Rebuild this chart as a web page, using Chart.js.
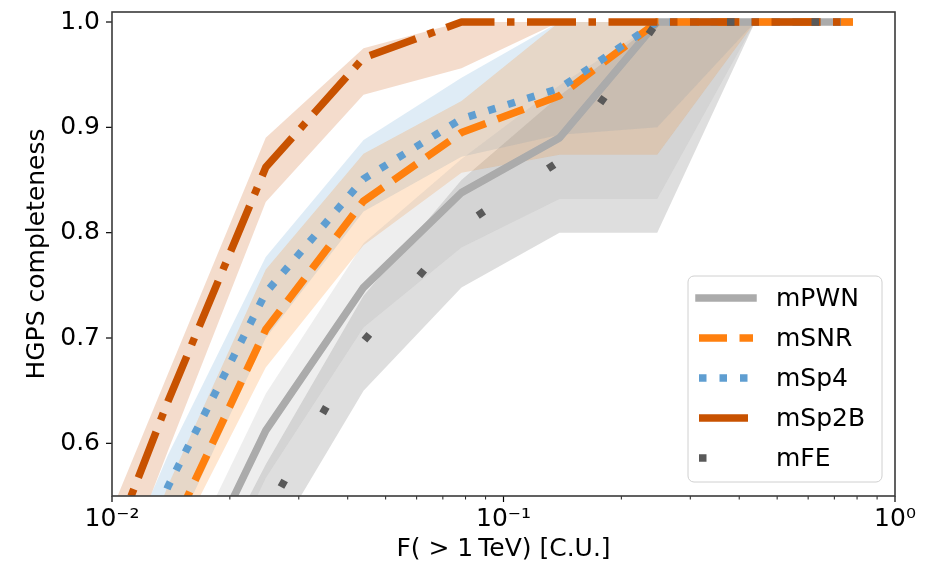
<!DOCTYPE html>
<html>
<head>
<meta charset="utf-8">
<script src="https://cdn.jsdelivr.net/npm/chart.js@4.4.0/dist/chart.umd.min.js"></script>
<style>
  html, body { margin: 0; padding: 0; background: #fff; }
</style>
</head>
<body>
<canvas id="myChart" width="938" height="564"></canvas>
<script>
// flux bins, F(>1 TeV) in Crab units
const fluxCU = [0.0078, 0.0139, 0.0247, 0.0439, 0.0781, 0.139, 0.247, 0.439, 0.781];

const seriesNames = ['mPWN', 'mSNR', 'mSp4', 'mSp2B', 'mFE'];

const pwnMid  = [0.20, 0.42, 0.612, 0.748, 0.838, 0.890, 1.0, 1.0, 1.0];
const pwnLow  = [0.15, 0.37, 0.567, 0.710, 0.786, 0.832, 0.832, 1.0, 1.0];
const pwnHigh = [0.25, 0.455, 0.647, 0.790, 0.870, 0.940, 1.0, 1.0, 1.0];

const snrMid  = [0.28, 0.51, 0.708, 0.830, 0.895, 0.930, 1.0, 1.0, 1.0];
const snrLow  = [0.24, 0.49, 0.672, 0.788, 0.857, 0.874, 0.874, 1.0, 1.0];
const snrHigh = [0.32, 0.56, 0.765, 0.875, 0.925, 1.0, 1.0, 1.0, 1.0];

const sp4Mid  = [0.33, 0.559, 0.743, 0.851, 0.908, 0.937, 1.0, 1.0, 1.0];
const sp4Low  = [0.28, 0.50, 0.700, 0.820, 0.872, 0.893, 0.900, 1.0, 1.0];
const sp4High = [0.37, 0.589, 0.777, 0.888, 0.947, 1.0, 1.0, 1.0, 1.0];

const sp2bMid  = [0.40, 0.64, 0.862, 0.966, 1.0, 1.0, 1.0, 1.0, 1.0];
const sp2bLow  = [0.35, 0.593, 0.829, 0.931, 0.956, 1.0, 1.0, 1.0, 1.0];
const sp2bHigh = [0.44, 0.666, 0.890, 0.975, 1.0, 1.0, 1.0, 1.0, 1.0];

const feMid  = [0.15, 0.33, 0.533, 0.697, 0.806, 0.868, 1.0, 1.0, 1.0];
const feLow  = [0.10, 0.30, 0.494, 0.650, 0.748, 0.800, 0.800, 1.0, 1.0];
const feHigh = [0.20, 0.40, 0.580, 0.740, 0.850, 0.930, 1.0, 1.0, 1.0];

const yTicks = [0.6, 0.7, 0.8, 0.9, 1.0];
const xMajorTicks = [0.01, 0.1, 1];
const xMinorTicks = [0.02, 0.03, 0.04, 0.05, 0.06, 0.07, 0.08, 0.09,
                     0.2, 0.3, 0.4, 0.5, 0.6, 0.7, 0.8, 0.9];
const xTickLabels = ['10\u207B\u00B2', '10\u207B\u00B9', '10\u2070'];

const FONT = 'DejaVu Sans';
const LW = 7.5;

const colors = ['#ABABAB', '#FF800E', '#5F9ED1', '#C85200', '#595959'];
const fills = ['rgba(171,171,171,0.2)', 'rgba(255,128,14,0.2)', 'rgba(95,158,209,0.2)',
               'rgba(200,82,0,0.2)', 'rgba(89,89,89,0.2)'];
const dashes = [[], [28, 12.5], [LW, 13], [49, 12.5, LW, 12.5], [LW, 77]];
// pixel x on the flat top part where a dash of each pattern starts
const dashStartPx = [null, 752, 751.5, 690, 727];
const mids = [pwnMid, snrMid, sp4Mid, sp2bMid, feMid];
const lows = [pwnLow, snrLow, sp4Low, sp2bLow, feLow];
const highs = [pwnHigh, snrHigh, sp4High, sp2bHigh, feHigh];
const drawOrder = [5, 4, 3, 2, 1];

const pts = (arr) => fluxCU.map((x, i) => ({ x, y: arr[i] }));

const datasets = [];
seriesNames.forEach((name, k) => {
  datasets.push({
    label: name,
    data: pts(mids[k]),
    borderColor: colors[k],
    borderWidth: LW,
    borderDash: dashes[k],
    borderDashOffset: 0,
    borderCapStyle: 'butt',
    borderJoinStyle: 'round',
    pointRadius: 0,
    fill: false,
    clip: 0,
    order: drawOrder[k],
  });
});
seriesNames.forEach((name, k) => {
  const lowIdx = datasets.length;
  datasets.push({
    label: name + ' low',
    band: true,
    data: pts(lows[k]),
    borderWidth: 0,
    pointRadius: 0,
    fill: false,
    order: 20 + k,
  });
  datasets.push({
    label: name + ' high',
    band: true,
    data: pts(highs[k]),
    borderWidth: 0,
    pointRadius: 0,
    backgroundColor: fills[k],
    fill: { target: lowIdx },
    order: 20 + k,
  });
});

// box, tick marks and legend
const frame = {
  id: 'frame',
  afterDraw(chart) {
    const { ctx, chartArea: a, scales } = chart;
    ctx.save();
    ctx.strokeStyle = '#000';
    ctx.lineWidth = 1.2;
    const tick = (x1, y1, x2, y2) => { ctx.beginPath(); ctx.moveTo(x1, y1); ctx.lineTo(x2, y2); ctx.stroke(); };
    xMajorTicks.forEach(v => { const px = scales.x.getPixelForValue(v); tick(px, a.bottom, px, a.bottom + 6); });
    ctx.lineWidth = 0.9;
    xMinorTicks.forEach(v => { const px = scales.x.getPixelForValue(v); tick(px, a.bottom, px, a.bottom + 3.5); });
    ctx.lineWidth = 1.2;
    yTicks.forEach(v => { const py = scales.y.getPixelForValue(v); tick(a.left - 6, py, a.left, py); });

    ctx.strokeStyle = '#3a3a3a';
    ctx.lineWidth = 1.6;
    ctx.strokeRect(a.left, a.top, a.right - a.left, a.bottom - a.top);

    // legend
    const bx = 688, by = 276, bw = 194, bh = 206, r = 6;
    ctx.beginPath();
    ctx.moveTo(bx + r, by);
    ctx.arcTo(bx + bw, by, bx + bw, by + bh, r);
    ctx.arcTo(bx + bw, by + bh, bx, by + bh, r);
    ctx.arcTo(bx, by + bh, bx, by, r);
    ctx.arcTo(bx, by, bx + bw, by, r);
    ctx.closePath();
    ctx.fillStyle = 'rgba(255,255,255,0.8)';
    ctx.fill();
    ctx.strokeStyle = '#d0d0d0';
    ctx.lineWidth = 1;
    ctx.stroke();

    ctx.font = '25px "' + FONT + '"';
    ctx.textBaseline = 'middle';
    ctx.textAlign = 'left';
    chart.data.datasets.filter(d => !d.band).forEach((d, k) => {
      const y = 298 + k * 40;
      ctx.beginPath();
      ctx.setLineDash(d.borderDash);
      ctx.lineCap = d.borderDash.length ? 'butt' : 'square';
      ctx.strokeStyle = d.borderColor;
      ctx.lineWidth = d.borderWidth;
      ctx.moveTo(699, y);
      ctx.lineTo(753, y);
      ctx.stroke();
      ctx.setLineDash([]);
      ctx.fillStyle = '#000';
      ctx.fillText(d.label, 776, y + 1);
    });
    ctx.restore();
  }
};

Chart.defaults.font.family = FONT;
Chart.defaults.color = '#000';

const noEdgePad = (scale) => {
  scale.paddingTop = 0; scale.paddingBottom = 0;
  scale.paddingLeft = 0; scale.paddingRight = 0;
};

const chart = new Chart(document.getElementById('myChart').getContext('2d'), {
  type: 'line',
  data: { datasets },
  options: {
    responsive: false,
    animation: false,
    devicePixelRatio: 1,
    layout: { padding: { top: 12, right: 43, left: 0, bottom: 0 } },
    plugins: {
      legend: { display: false },
      tooltip: { enabled: false },
      filler: { propagate: false, drawTime: 'beforeDatasetsDraw' },
    },
    scales: {
      x: {
        type: 'logarithmic',
        min: 0.01,
        max: 1,
        afterBuildTicks: (axis) => { axis.ticks = xMajorTicks.map(v => ({ value: v })); },
        afterFit: (scale) => { scale.height = 68; noEdgePad(scale); },
        ticks: {
          autoSkip: false,
          maxRotation: 0,
          padding: 8,
          font: { size: 25 },
          callback: (v, i) => xTickLabels[i],
        },
        grid: { display: false, drawTicks: false },
        border: { display: false },
        title: {
          display: true,
          text: 'F( > 1\u2009TeV) [C.U.]',
          font: { size: 25 },
          padding: { top: 0, bottom: 0 },
        },
      },
      y: {
        type: 'linear',
        min: 0.55,
        max: 1.0095,
        afterBuildTicks: (axis) => { axis.ticks = yTicks.map(v => ({ value: v })); },
        afterFit: (scale) => { scale.width = 112; noEdgePad(scale); },
        ticks: {
          padding: 12,
          font: { size: 25 },
          callback: (v) => v.toFixed(1),
        },
        grid: { display: false, drawTicks: false },
        border: { display: false },
        title: {
          display: true,
          text: 'HGPS completeness',
          font: { size: 25 },
          padding: { top: 22, bottom: 0 },
        },
      },
    },
  },
  plugins: [frame],
});

// line up the dash phase on the flat top part (dashes run along the whole path)
seriesNames.forEach((name, k) => {
  const pattern = dashes[k];
  if (!pattern.length) return;
  const els = chart.getDatasetMeta(k).data;
  const flatIdx = 6;
  let len = 0;
  for (let i = 1; i <= flatIdx; i++) {
    len += Math.hypot(els[i].x - els[i - 1].x, els[i].y - els[i - 1].y);
  }
  const s = len + (dashStartPx[k] - els[flatIdx].x);
  const period = pattern.reduce((p, q) => p + q, 0);
  datasets[k].borderDashOffset = ((-s % period) + period) % period;
});
chart.update();
</script>
</body>
</html>
